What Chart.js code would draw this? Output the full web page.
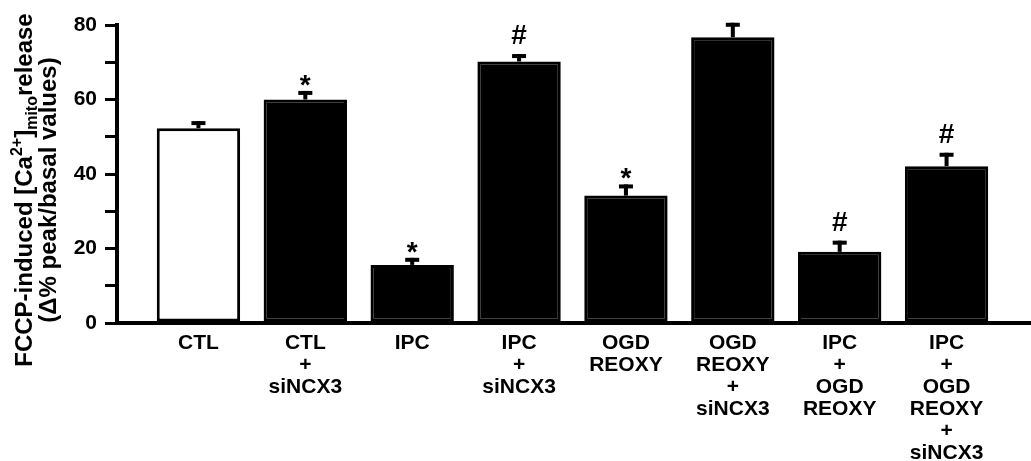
<!DOCTYPE html>
<html>
<head>
<meta charset="utf-8">
<script src="https://cdn.jsdelivr.net/npm/chart.js@4.4.1/dist/chart.umd.min.js"></script>
<style>
  html, body { margin: 0; padding: 0; background: #ffffff; }
  #wrap { width: 1031px; height: 461px; }
</style>
</head>
<body>
<div id="wrap"><canvas id="chart" width="1031" height="461"></canvas></div>
<script>
// Experimental groups (multi-line axis labels)
const categories = [
  ['CTL'],
  ['CTL', '+', 'siNCX3'],
  ['IPC'],
  ['IPC', '+', 'siNCX3'],
  ['OGD', 'REOXY'],
  ['OGD', 'REOXY', '+', 'siNCX3'],
  ['IPC', '+', 'OGD', 'REOXY'],
  ['IPC', '+', 'OGD', 'REOXY', '+', 'siNCX3']
];
// FCCP-induced mitochondrial Ca2+ release, mean and S.E.M.
const meanRelease = [52.3, 60.0, 15.6, 70.2, 34.2, 76.7, 19.1, 42.1];
const semRelease  = [1.9, 2.3, 1.9, 2.0, 3.0, 3.9, 3.0, 3.6];
// Statistical significance symbols above each bar
const significance = ['', '*', '*', '#', '*', '', '#', '#'];
// Labelled y values
const yTickLabels = [0, 20, 40, 60, 80];

const FONT = '"Liberation Sans", Arial, Helvetica, sans-serif';

const points = meanRelease.map((v, i) => ({ x: i, y: v }));
const fills = categories.map((c, i) => (i === 0 ? '#ffffff' : '#000000'));

// Upward error bars plus significance symbols
const errorBarPlugin = {
  id: 'errorBars',
  afterDatasetsDraw(chart) {
    const ctx = chart.ctx;
    const meta = chart.getDatasetMeta(0);
    const yScale = chart.scales.y;
    ctx.save();
    ctx.fillStyle = '#000';
    meta.data.forEach((bar, i) => {
      const x = bar.x;
      const top = yScale.getPixelForValue(meanRelease[i]);
      const capY = yScale.getPixelForValue(meanRelease[i] + semRelease[i]);
      ctx.fillRect(x - 2, capY, 4, top - capY);
      ctx.fillRect(x - 7, capY, 14, 4);
      const sym = significance[i];
      if (sym) {
        ctx.font = 'bold 28px ' + FONT;
        ctx.textAlign = 'center';
        ctx.textBaseline = 'alphabetic';
        ctx.fillText(sym, x, sym === '*' ? capY + 3 : capY - 10);
      }
    });
    ctx.restore();
  }
};

// Rotated y-axis title with superscript and subscript parts
const yTitlePlugin = {
  id: 'yTitle',
  afterDraw(chart) {
    const ctx = chart.ctx;
    const lines = [
      { x: 32, parts: [
        ['FCCP-induced [Ca', 0], ['2+', -1], [']', 0], ['mito', 1], ['release', 0]
      ] },
      { x: 56, parts: [['(\u0394% peak/basal values)', 0]] }
    ];
    const centerY = 190;
    ctx.save();
    ctx.fillStyle = '#000';
    ctx.textBaseline = 'alphabetic';
    ctx.textAlign = 'left';
    const fontFor = (k) => (k === 0 ? 'bold 24px ' : 'bold 16px ') + FONT;
    lines.forEach(line => {
      let total = 0;
      line.parts.forEach(([t, k]) => { ctx.font = fontFor(k); total += ctx.measureText(t).width; });
      ctx.save();
      ctx.translate(line.x, centerY);
      ctx.rotate(-Math.PI / 2);
      let pos = -total / 2;
      line.parts.forEach(([t, k]) => {
        ctx.font = fontFor(k);
        const dy = k === -1 ? -10 : (k === 1 ? 5 : 0);
        ctx.fillText(t, pos, dy);
        pos += ctx.measureText(t).width;
      });
      ctx.restore();
    });
    ctx.restore();
  }
};

new Chart(document.getElementById('chart'), {
  type: 'bar',
  data: {
    datasets: [{
      data: points,
      backgroundColor: fills,
      borderColor: '#000000',
      borderWidth: 3,
      borderSkipped: false,
      barPercentage: 0.78,
      categoryPercentage: 1.0
    }]
  },
  options: {
    responsive: false,
    animation: false,
    devicePixelRatio: 1,
    layout: { padding: { top: 25, right: 0, bottom: 0, left: 0 } },
    plugins: { legend: { display: false }, tooltip: { enabled: false } },
    scales: {
      x: {
        type: 'linear',
        position: 'bottom',
        offset: false,
        min: -0.762,
        max: 7.79,
        afterFit(scale) { scale.height = 138; },
        grid: { display: true, offset: false, drawOnChartArea: false, drawTicks: false },
        border: { display: true, color: '#000', width: 4 },
        ticks: {
          stepSize: 1,
          includeBounds: false,
          autoSkip: false,
          maxRotation: 0,
          minRotation: 0,
          padding: 9,
          color: '#000',
          font: { family: FONT, size: 21, weight: 'bold', lineHeight: 22 / 21 },
          callback: (v) => (Number.isInteger(v) && categories[v]) ? categories[v] : ''
        }
      },
      y: {
        min: 0,
        max: 80,
        afterFit(scale) { scale.width = 117; },
        grid: { display: true, drawOnChartArea: false, drawTicks: true, tickLength: 12, color: '#000', lineWidth: 3 },
        border: { display: true, color: '#000', width: 4 },
        ticks: {
          stepSize: 10,
          padding: 8,
          color: '#000',
          font: { family: FONT, size: 21, weight: 'bold' },
          callback: (v) => (yTickLabels.includes(v) ? String(v) : '')
        }
      }
    }
  },
  plugins: [errorBarPlugin, yTitlePlugin]
});
</script>
</body>
</html>
